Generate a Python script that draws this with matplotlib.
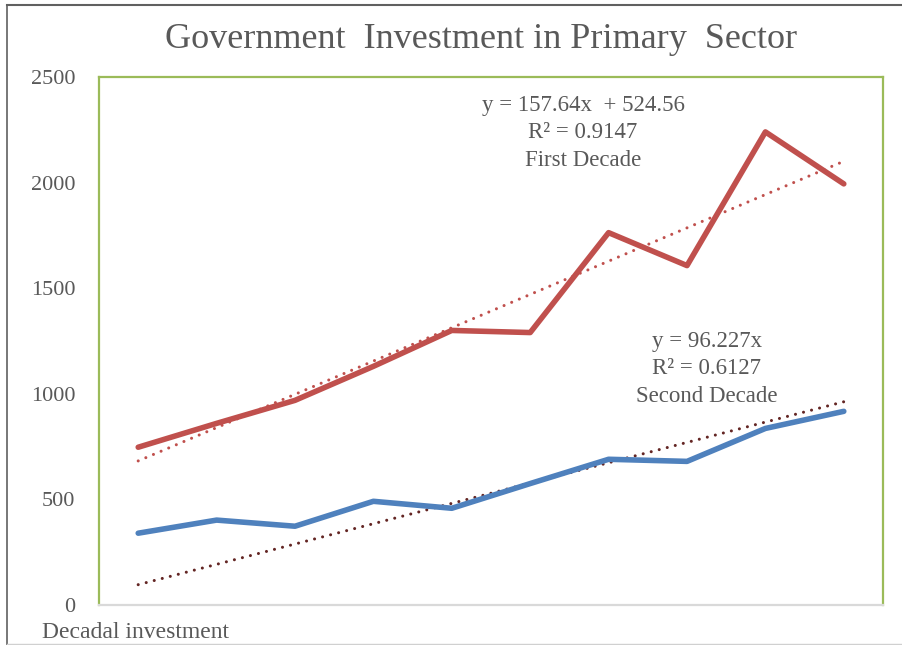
"""Government investment in primary sector, two decades with linear trendlines."""

import matplotlib

matplotlib.use("Agg")
import matplotlib.pyplot as plt
import numpy as np
from matplotlib.lines import Line2D

plt.rcParams["font.family"] = ["Liberation Serif", "DejaVu Serif"]

# ── data ──
years = list(range(1, 11))
first_decade = [747, 860, 969, 1130, 1300, 1290, 1763, 1607, 2240, 1994]
second_decade = [340, 402, 373, 491, 458, 575, 690, 680, 836, 917]
first_trend = (157.64, 524.56)   # slope, intercept
second_trend = (96.227, 0.0)
y_ticks = [0, 500, 1000, 1500, 2000, 2500]

RED = "#C0504D"
BLUE = "#4F81BD"
MAROON = "#632523"
GREEN = "#9BBB59"
TXT = "#595959"

fig = plt.figure(figsize=(9.03, 6.45), dpi=100)
ax = fig.add_axes([99 / 903, 1 - 605 / 645, (883 - 99) / 903, (605 - 77) / 645])

x = np.array(years)
dots = (0, (0.01, 2.7))
ax.plot(x, np.polyval(first_trend, x), color=RED, lw=2.2, ls=dots, dash_capstyle="round", zorder=2)
ax.plot(x, np.polyval(second_trend, x), color=MAROON, lw=2.2, ls=dots, dash_capstyle="round", zorder=2)
ax.plot(x, first_decade, color=RED, lw=4, solid_capstyle="round", solid_joinstyle="round", zorder=3)
ax.plot(x, second_decade, color=BLUE, lw=4, solid_capstyle="round", solid_joinstyle="round", zorder=3)

ax.set_xlim(0.5, 10.5)
ax.set_ylim(0, 2500)
ax.set_xticks([])
ax.set_yticks(y_ticks)
ax.tick_params(axis="y", length=0, pad=17, labelsize=16, labelcolor=TXT)

for side in ("left", "top", "right"):
    ax.spines[side].set_color(GREEN)
    ax.spines[side].set_linewidth(1.6)
ax.spines["bottom"].set_color("#D9D9D9")
ax.spines["bottom"].set_linewidth(1.6)

# ── texts ──
fig.text(481 / 903, 1 - 39 / 645, "Government  Investment in Primary  Sector",
         ha="center", va="center", fontsize=26, color=TXT)


def label(cx, cy, s):
    fig.text(cx / 903, 1 - cy / 645, s, ha="center", va="center", fontsize=16.5, color=TXT)


label(583, 105, "y = 157.64x  + 524.56")
label(583, 132, "R² = 0.9147")
label(583, 160, "First Decade")
label(707, 342, "y = 96.227x")
label(707, 368, "R² = 0.6127")
label(707, 397, "Second Decade")

fig.text(42 / 903, 1 - 633 / 645, "Decadal investment", ha="left", va="center", fontsize=17, color=TXT)

# outer frame
fig.add_artist(Line2D([7 / 903, 1], [1 - 5 / 645] * 2, color="#606060", lw=1.5))
fig.add_artist(Line2D([7 / 903] * 2, [0, 1 - 5 / 645], color="#606060", lw=1.2))
fig.add_artist(Line2D([7 / 903, 1], [1 / 645] * 2, color="#D0D0D0", lw=1.0))

fig.savefig("out.png", dpi=100)
